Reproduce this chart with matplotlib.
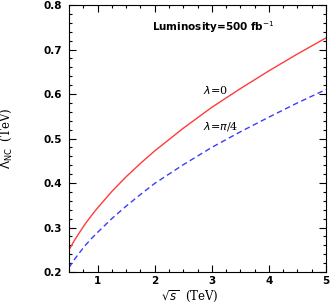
import matplotlib
matplotlib.use("Agg")
import matplotlib.pyplot as plt
from matplotlib.ticker import MultipleLocator

sqrt_s = [0.5, 0.6, 0.7, 0.8, 0.9, 1.0, 1.25, 1.5, 1.75, 2.0, 2.5, 3.0, 3.5, 4.0, 4.5, 5.0]
lam_nc_0 = [0.250, 0.272, 0.292, 0.311, 0.328, 0.344, 0.381, 0.414, 0.444, 0.472,
            0.523, 0.570, 0.612, 0.652, 0.690, 0.726]
lam_nc_pi4 = [0.210, 0.229, 0.246, 0.262, 0.276, 0.289, 0.320, 0.348, 0.374, 0.399,
              0.441, 0.480, 0.515, 0.548, 0.580, 0.610]

fig = plt.figure(figsize=(3.31, 3.05), dpi=100)
ax = fig.add_axes([69/331, 1 - 272/305, 257/331, 267/305])

ax.plot(sqrt_s, lam_nc_0, color="#ff3b3b", lw=1.0)
ax.plot(sqrt_s, lam_nc_pi4, color="#3b3bff", lw=1.0, ls=(0, (4, 2.5)))

ax.set_xlim(0.5, 5)
ax.set_ylim(0.2, 0.8)
ax.xaxis.set_minor_locator(MultipleLocator(0.25))
ax.yaxis.set_minor_locator(MultipleLocator(0.02))
ax.tick_params(which="both", direction="in", top=True, right=True, width=0.8)
ax.tick_params(which="major", length=5, labelsize=7.5)
ax.tick_params(axis="x", which="major", pad=3)
ax.tick_params(axis="y", which="major", pad=5)
ax.tick_params(which="minor", length=2.5)
ax.set_yticks([0.2, 0.3, 0.4, 0.5, 0.6, 0.7, 0.8])
ax.set_yticklabels(["0.2", "0.3", "0.4", "0.5", "0.6", "0.7", "0.8"], fontweight="bold")
ax.set_xticks([1, 2, 3, 4, 5])
ax.set_xticklabels(["1", "2", "3", "4", "5"], fontweight="bold")

serif = "DejaVu Serif"
ax.text(1.95, 0.75, r"Luminosity=500 fb$^{-1}$", fontsize=7.5, fontweight="bold", va="center")
ax.text(2.85, 0.609, r"$\lambda$=0", fontsize=8, family=serif, va="center")
ax.text(2.85, 0.526, r"$\lambda$=$\pi$/4", fontsize=8, family=serif, va="center")

ax.set_xlabel(r"$\sqrt{s}$  (TeV)", fontsize=8.5, family=serif)
ax.xaxis.set_label_coords(0.47, -0.06)
ax.set_ylabel(r"$\Lambda_{\rm NC}$  (TeV)", fontsize=8.5, family=serif)
ax.yaxis.set_label_coords(-0.215, 0.5)

fig.savefig("out.png", dpi=100)
